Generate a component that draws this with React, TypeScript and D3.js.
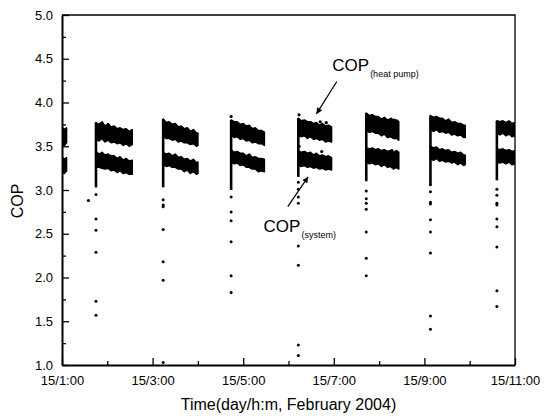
import { useEffect, useRef } from "react"
import * as d3 from "d3"

// start of each compressor cycle (15 Feb 2004); the first one is the tail of an earlier cycle
const cycleStart = ["01:00", "01:45", "03:14", "04:44", "06:13", "07:43", "09:08", "10:36"]

// minutes after cycle start at which the band edges were read
const sampleMinutes = [
  [0, 3, 6],
  [0, 4, 8, 12, 16, 20, 24, 28, 32, 36, 40, 44, 48],
  [0, 4, 8, 12, 16, 20, 24, 28, 32, 36, 40, 44, 46],
  [0, 4, 8, 12, 16, 20, 24, 28, 32, 36, 40, 44],
  [0, 4, 8, 12, 16, 20, 24, 28, 32, 36, 40, 44],
  [0, 4, 8, 12, 16, 20, 24, 28, 32, 36, 40, 43],
  [0, 4, 8, 12, 16, 20, 24, 28, 32, 36, 40, 44, 46],
  [0, 4, 8, 12, 16, 20, 24],
]

// COP(heat pump): upper and lower edge of the point cloud
const hpHigh = [
  [3.72, 3.69, 3.71],
  [3.77, 3.75, 3.78, 3.73, 3.76, 3.72, 3.73, 3.7, 3.71, 3.69, 3.7, 3.67, 3.69],
  [3.81, 3.77, 3.78, 3.75, 3.76, 3.72, 3.73, 3.7, 3.71, 3.67, 3.69, 3.65, 3.65],
  [3.8, 3.78, 3.78, 3.75, 3.76, 3.73, 3.74, 3.7, 3.71, 3.68, 3.68, 3.66],
  [3.82, 3.79, 3.8, 3.78, 3.78, 3.76, 3.77, 3.74, 3.76, 3.73, 3.74, 3.72],
  [3.88, 3.85, 3.86, 3.84, 3.84, 3.81, 3.83, 3.8, 3.81, 3.79, 3.8, 3.78],
  [3.85, 3.83, 3.84, 3.82, 3.82, 3.79, 3.81, 3.77, 3.78, 3.76, 3.76, 3.74, 3.74],
  [3.79, 3.78, 3.79, 3.77, 3.79, 3.76, 3.77],
]
const hpLow = [
  [3.53, 3.51, 3.54],
  [3.58, 3.56, 3.59, 3.55, 3.57, 3.54, 3.55, 3.53, 3.54, 3.51, 3.53, 3.5, 3.52],
  [3.61, 3.59, 3.59, 3.57, 3.58, 3.55, 3.56, 3.54, 3.54, 3.52, 3.53, 3.5, 3.51],
  [3.63, 3.6, 3.61, 3.58, 3.59, 3.56, 3.57, 3.54, 3.55, 3.53, 3.53, 3.51],
  [3.62, 3.61, 3.62, 3.59, 3.61, 3.58, 3.59, 3.57, 3.58, 3.55, 3.56, 3.55],
  [3.68, 3.66, 3.67, 3.65, 3.65, 3.62, 3.64, 3.6, 3.61, 3.59, 3.59, 3.57],
  [3.69, 3.67, 3.69, 3.66, 3.67, 3.65, 3.66, 3.63, 3.64, 3.62, 3.63, 3.6, 3.6],
  [3.65, 3.63, 3.65, 3.62, 3.64, 3.61, 3.62],
]

// COP(system): upper and lower edge of the point cloud
const sysHigh = [
  [3.38, 3.35, 3.37],
  [3.44, 3.41, 3.43, 3.4, 3.41, 3.39, 3.39, 3.36, 3.38, 3.34, 3.36, 3.33, 3.34],
  [3.43, 3.41, 3.42, 3.39, 3.41, 3.37, 3.38, 3.35, 3.36, 3.33, 3.35, 3.31, 3.32],
  [3.46, 3.43, 3.44, 3.42, 3.42, 3.39, 3.41, 3.37, 3.38, 3.36, 3.36, 3.35],
  [3.45, 3.43, 3.44, 3.42, 3.43, 3.4, 3.42, 3.39, 3.4, 3.38, 3.39, 3.37],
  [3.48, 3.47, 3.48, 3.46, 3.47, 3.45, 3.46, 3.44, 3.45, 3.43, 3.45, 3.43],
  [3.5, 3.48, 3.49, 3.46, 3.47, 3.45, 3.46, 3.43, 3.44, 3.42, 3.43, 3.4, 3.4],
  [3.47, 3.46, 3.47, 3.45, 3.46, 3.44, 3.45],
]
const sysLow = [
  [3.21, 3.19, 3.22],
  [3.26, 3.26, 3.25, 3.24, 3.25, 3.22, 3.23, 3.2, 3.22, 3.19, 3.2, 3.18, 3.18],
  [3.29, 3.27, 3.28, 3.26, 3.26, 3.24, 3.24, 3.21, 3.23, 3.19, 3.21, 3.18, 3.19],
  [3.32, 3.3, 3.31, 3.28, 3.29, 3.26, 3.26, 3.24, 3.24, 3.21, 3.22, 3.21],
  [3.28, 3.27, 3.28, 3.26, 3.27, 3.25, 3.26, 3.24, 3.25, 3.23, 3.24, 3.23],
  [3.32, 3.3, 3.31, 3.29, 3.3, 3.27, 3.29, 3.26, 3.27, 3.24, 3.26, 3.24],
  [3.36, 3.34, 3.36, 3.33, 3.34, 3.32, 3.33, 3.31, 3.32, 3.29, 3.31, 3.28, 3.29],
  [3.32, 3.31, 3.32, 3.3, 3.32, 3.29, 3.3],
]

// dense start-up streak bottom, and the isolated start-up points below it
const streakLow = [null, 3.03, 3.03, 3.0, 3.15, 3.1, 3.06, 3.11]
const startupDots = [
  [],
  [2.95, 2.67, 2.54, 2.29, 1.73, 1.57],
  [2.89, 2.83, 2.81, 2.55, 2.18, 1.97, 1.03],
  [2.92, 2.75, 2.65, 2.41, 2.02, 1.83],
  [3.09, 3.01, 2.92, 2.85, 2.36, 2.14, 1.23, 1.11],
  [2.99, 2.9, 2.85, 2.78, 2.52, 2.22, 2.02],
  [3.06, 2.98, 2.86, 2.84, 2.66, 2.52, 2.28, 1.56, 1.41],
  [3.01, 2.94, 2.85, 2.83, 2.67, 2.58, 2.35, 1.85, 1.67],
]
// stray points: [cycle, minutes after start, COP]
const strayDots: [number, number, number][] = [
  [1, -10, 2.88],
  [3, 0, 3.84],
  [4, 1, 3.86],
  [4, 1, 3.5],
  [4, 29, 3.78],
  [4, 37, 3.77],
  [4, 31, 3.44],
  [5, 33, 3.81],
  [5, 37, 3.8],
  [5, 34, 3.45],
]

const xTickHours = [1, 3, 5, 7, 9, 11]
const xMinorHours = [2, 4, 6, 8, 10]
const yTicks = [1, 1.5, 2, 2.5, 3, 3.5, 4, 4.5, 5]
const yMinor = [1.25, 1.75, 2.25, 2.75, 3.25, 3.75, 4.25, 4.75]

// annotations: label position and arrow [from, to], as [time, COP]
const hpLabel = { at: ["06:58", 4.36], arrow: [["07:04", 4.24], ["06:37", 3.87]] }
const sysLabel = { at: ["05:27", 2.52], arrow: [["05:59", 2.81], ["06:26", 3.15]] }

const FONT = "Arial, 'Liberation Sans', sans-serif"

const App = () => {
  const svgRef = useRef<SVGSVGElement>(null)

  useEffect(() => {
    if (!svgRef.current) return
    const svg = d3.select(svgRef.current)
    svg.selectAll("*").remove()

    const width = 554
    const height = 418
    const margin = { top: 15, right: 39, bottom: 53, left: 62 }

    const parse = d3.timeParse("%Y-%m-%d %H:%M")
    const at = (hm: string) => parse("2004-02-15 " + hm) as Date
    const hour = (h: number) => new Date(2004, 1, 15, h, 0)

    const x = d3
      .scaleTime()
      .domain([hour(1), hour(11)])
      .range([margin.left, width - margin.right])
    const y = d3
      .scaleLinear()
      .domain([1, 5])
      .range([height - margin.bottom, margin.top])

    svg
      .append("defs")
      .append("clipPath")
      .attr("id", "plot")
      .append("rect")
      .attr("x", margin.left)
      .attr("y", margin.top - 5)
      .attr("width", width - margin.left - margin.right)
      .attr("height", height - margin.top - margin.bottom + 5)

    const plot = svg.append("g").attr("clip-path", "url(#plot)")

    type Pt = { t: Date; hi: number; lo: number }
    const band = d3
      .area<Pt>()
      .x((d) => x(d.t))
      .y0((d) => y(d.lo))
      .y1((d) => y(d.hi))

    cycleStart.forEach((s, i) => {
      const start = at(s)
      const hp: Pt[] = sampleMinutes[i].map((m, j) => ({
        t: d3.timeMinute.offset(start, m),
        hi: hpHigh[i][j],
        lo: hpLow[i][j],
      }))
      const sys: Pt[] = sampleMinutes[i].map((m, j) => ({
        t: d3.timeMinute.offset(start, m),
        hi: sysHigh[i][j],
        lo: sysLow[i][j],
      }))
      ;[hp, sys].forEach((b) => {
        plot
          .append("path")
          .datum(b)
          .attr("d", band)
          .attr("fill", "#000")
          .attr("stroke", "#000")
          .attr("stroke-width", 1.6)
          .attr("stroke-linejoin", "round")
      })

      const low = streakLow[i]
      if (low != null) {
        plot
          .append("line")
          .attr("x1", x(start))
          .attr("x2", x(start))
          .attr("y1", y(low))
          .attr("y2", y(hpHigh[i][0]))
          .attr("stroke", "#000")
          .attr("stroke-width", 2.6)
      }

      plot
        .selectAll(null)
        .data(startupDots[i])
        .enter()
        .append("circle")
        .attr("cx", x(start))
        .attr("cy", (d) => y(d))
        .attr("r", 1.5)
        .attr("fill", "#000")
    })

    plot
      .selectAll(null)
      .data(strayDots)
      .enter()
      .append("circle")
      .attr("cx", (d) => x(d3.timeMinute.offset(at(cycleStart[d[0]]), d[1])))
      .attr("cy", (d) => y(d[2]))
      .attr("r", 1.6)
      .attr("fill", "#000")

    // frame
    svg
      .append("path")
      .attr("d", `M${x.range()[0]},${y(5)}H${x.range()[1]}V${y(1)}`)
      .attr("fill", "none")
      .attr("stroke", "#000")
      .attr("stroke-width", 1.3)

    const styleAxis = (g: d3.Selection<SVGGElement, unknown, null, undefined>) => {
      g.attr("font-family", FONT).attr("font-size", 13)
      g.selectAll("text").attr("fill", "#000")
      g.selectAll("line").attr("stroke", "#000").attr("stroke-width", 1.3)
    }

    // x axis
    const xAxis = svg
      .append("g")
      .attr("transform", `translate(0,${y(1)})`)
      .call(
        d3
          .axisBottom(x)
          .tickValues(xTickHours.map(hour))
          .tickFormat((d) => d3.timeFormat("%d/%-H:%M")(d as Date))
          .tickSize(-7)
          .tickSizeOuter(0)
          .tickPadding(11)
      )
    xAxis.select(".domain").attr("stroke", "#000").attr("stroke-width", 2)
    styleAxis(xAxis)
    const xMinorAxis = svg
      .append("g")
      .attr("transform", `translate(0,${y(1)})`)
      .call(
        d3
          .axisBottom(x)
          .tickValues(xMinorHours.map(hour))
          .tickFormat(() => "")
          .tickSize(-4)
          .tickSizeOuter(0)
      )
    xMinorAxis.select(".domain").remove()
    styleAxis(xMinorAxis)

    // y axis
    const yAxis = svg
      .append("g")
      .attr("transform", `translate(${x.range()[0]},0)`)
      .call(
        d3
          .axisLeft(y)
          .tickValues(yTicks)
          .tickFormat(d3.format(".1f"))
          .tickSize(-7)
          .tickSizeOuter(0)
          .tickPadding(9)
      )
    yAxis.select(".domain").attr("stroke", "#000").attr("stroke-width", 2)
    styleAxis(yAxis)
    const yMinorAxis = svg
      .append("g")
      .attr("transform", `translate(${x.range()[0]},0)`)
      .call(d3.axisLeft(y).tickValues(yMinor).tickFormat(() => "").tickSize(-4).tickSizeOuter(0))
    yMinorAxis.select(".domain").remove()
    styleAxis(yMinorAxis)

    // axis titles
    svg
      .append("text")
      .attr("x", (x.range()[0] + x.range()[1]) / 2)
      .attr("y", 410)
      .attr("text-anchor", "middle")
      .attr("font-family", FONT)
      .attr("font-size", 16)
      .text("Time(day/h:m, February 2004)")
    svg
      .append("text")
      .attr("transform", `translate(23,${(y(1) + y(5)) / 2 + 11}) rotate(-90)`)
      .attr("text-anchor", "middle")
      .attr("font-family", FONT)
      .attr("font-size", 16)
      .text("COP")

    // annotations
    const marker = svg
      .select("defs")
      .append("marker")
      .attr("id", "head")
      .attr("viewBox", "0 0 10 10")
      .attr("refX", 10)
      .attr("refY", 5)
      .attr("markerWidth", 6)
      .attr("markerHeight", 6)
      .attr("markerUnits", "userSpaceOnUse")
      .attr("orient", "auto")
    marker.append("path").attr("d", "M0,0L10,5L0,10Z").attr("fill", "#000")

    ;[
      { l: hpLabel, sub: "(heat pump)" },
      { l: sysLabel, sub: "(system)" },
    ].forEach(({ l, sub }) => {
      const t = svg
        .append("text")
        .attr("x", x(at(l.at[0] as string)))
        .attr("y", y(l.at[1] as number))
        .attr("font-family", FONT)
        .attr("font-size", 17)
      t.append("tspan").text("COP")
      t.append("tspan").attr("font-size", 9).attr("dx", 1).attr("dy", 5.5).text(sub)

      const [from, to] = l.arrow
      svg
        .append("line")
        .attr("x1", x(at(from[0] as string)))
        .attr("y1", y(from[1] as number))
        .attr("x2", x(at(to[0] as string)))
        .attr("y2", y(to[1] as number))
        .attr("stroke", "#000")
        .attr("stroke-width", 1.2)
        .attr("marker-end", "url(#head)")
    })
  }, [])

  return (
    <svg
      ref={svgRef}
      width={554}
      height={418}
      style={{ position: "absolute", left: 0, top: 0, background: "#fff" }}
    />
  )
}

export default App
